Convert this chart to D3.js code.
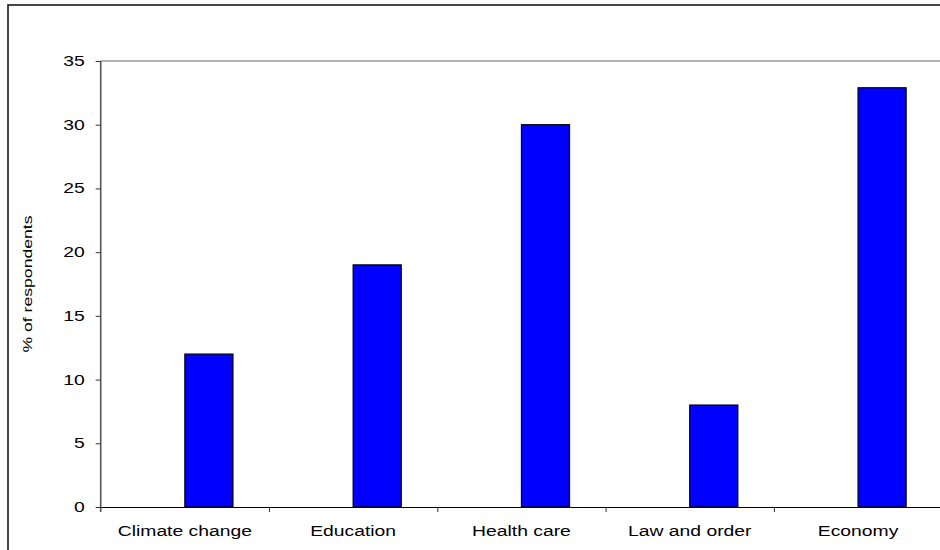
<!DOCTYPE html>
<html>
<head>
<meta charset="utf-8">
<script src="https://cdn.jsdelivr.net/npm/d3@7"></script>
<style>
  html, body { margin: 0; padding: 0; background: #fff; }
  svg { display: block; }
  text { font-family: "Liberation Sans", Arial, sans-serif; fill: #000; }
</style>
</head>
<body>
<svg id="chart" width="940" height="550"></svg>
<script>
// Most important issue, share of respondents (%)
const categories = ["Climate change", "Education", "Health care", "Law and order", "Economy"];
const shares = [12, 19, 30, 8, 32.9];
const yTicks = [0, 5, 10, 15, 20, 25, 30, 35];
const yTitle = "% of respondents";

const svg = d3.select("#chart");
const W = 940, H = 550;
const plot = { left: 100.7, top: 61, right: 942.2, bottom: 507 };
const stretch = 1.38; // text is drawn wider than it is tall

// outer chart frame
svg.append("rect")
  .attr("x", 8).attr("y", 5)
  .attr("width", W + 10).attr("height", H + 10)
  .attr("fill", "none").attr("stroke", "#1a1a1a").attr("stroke-width", 1.6);

const x = d3.scaleBand().domain(categories).range([plot.left, plot.right]).padding(0);
// two slots per category; the value occupies the second one
const slot = d3.scaleBand().domain(["blank", "share"]).range([0, x.bandwidth()])
  .paddingInner(0).paddingOuter(0.75);
const y = d3.scaleLinear().domain([0, 35]).range([plot.bottom, plot.top]);

// plot area top edge
svg.append("line")
  .attr("x1", plot.left).attr("x2", plot.right)
  .attr("y1", y(35)).attr("y2", y(35))
  .attr("stroke", "#9a9a9a").attr("stroke-width", 1.3);

// bars
svg.append("g").selectAll("rect")
  .data(categories.map((c, i) => ({ c, v: shares[i] })))
  .join("rect")
  .attr("x", d => x(d.c) + slot("share"))
  .attr("y", d => y(d.v))
  .attr("width", slot.bandwidth())
  .attr("height", d => y(0) - y(d.v))
  .attr("fill", "#0000ff")
  .attr("stroke", "#000").attr("stroke-width", 1.2);

// y axis
const yAxis = svg.append("g")
  .attr("transform", `translate(${plot.left},0)`)
  .call(d3.axisLeft(y).tickValues(yTicks).tickSize(5).tickPadding(11).tickSizeOuter(0));
yAxis.select(".domain").attr("stroke", "#555").attr("stroke-width", 1.6)
  .attr("d", `M0,${plot.top}V${plot.bottom + 5}`);
yAxis.selectAll(".tick line").attr("stroke", "#333");
yAxis.selectAll("text").style("font-size", "14px");

// x axis: boundary ticks
const edges = d3.scaleLinear().domain([0, categories.length]).range([plot.left, plot.right]);
const xTickAxis = svg.append("g")
  .attr("transform", `translate(0,${plot.bottom})`)
  .call(d3.axisBottom(edges).ticks(categories.length).tickFormat("").tickSize(5).tickSizeOuter(0));
xTickAxis.select(".domain").attr("stroke", "#000").attr("stroke-width", 1.2);
xTickAxis.selectAll(".tick").filter(d => d === 0).remove();
xTickAxis.selectAll(".tick line").attr("stroke", "#333");

// x axis: category labels
const xLabelAxis = svg.append("g")
  .attr("transform", `translate(0,${plot.bottom})`)
  .call(d3.axisBottom(x).tickSize(0).tickPadding(19));
xLabelAxis.select(".domain").remove();
xLabelAxis.selectAll("text").style("font-size", "14px");

// widen axis labels horizontally
svg.selectAll(".tick text").each(function () {
  const len = this.getComputedTextLength();
  d3.select(this).attr("textLength", len * stretch).attr("lengthAdjust", "spacingAndGlyphs");
});

// y axis title
svg.append("text")
  .attr("transform", `translate(32,${(plot.top + plot.bottom) / 2}) rotate(-90)`)
  .attr("text-anchor", "middle")
  .style("font-size", "13px")
  .attr("textLength", 137).attr("lengthAdjust", "spacingAndGlyphs")
  .text(yTitle);
</script>
</body>
</html>
